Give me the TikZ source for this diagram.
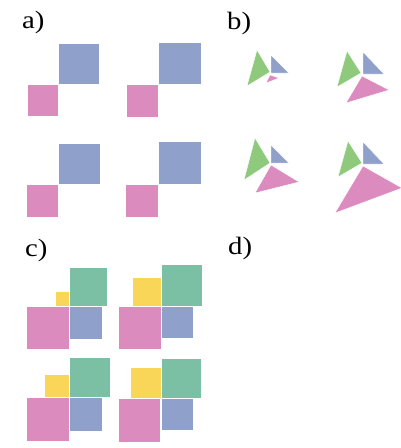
\documentclass[tikz,border=0pt]{standalone}
\usepackage{fontspec}
\setmainfont{Liberation Serif}
\usepackage{tikz}
\definecolor{ShapeBlue}{RGB}{143, 161, 202}
\definecolor{ShapePink}{RGB}{220, 139, 191}
\definecolor{ShapeGreen}{RGB}{142, 201, 124}
\definecolor{ShapeTeal}{RGB}{123, 192, 164}
\definecolor{ShapeYellow}{RGB}{250, 214, 88}
\tikzset{every node/.style={font=\fontsize{25}{25}\selectfont}, every path/.style={line cap=round, line join=round}}
\tikzset{
    panellabel/.style={anchor=base west, inner sep=0pt, xscale=1.15, transform shape},
    tile/.style={draw=white, line width=0.4pt},
    blue tile/.style={tile, fill=ShapeBlue},
    pink tile/.style={tile, fill=ShapePink},
    green tile/.style={tile, fill=ShapeGreen},
    teal tile/.style={tile, fill=ShapeTeal},
    yellow tile/.style={tile, fill=ShapeYellow}
}

\begin{document}
\begin{tikzpicture}[x=1pt, y=-1pt]
    \useasboundingbox (0,0) rectangle (401,448);

    \node [panellabel] (labelA) at (22,28.5) {a)};
    \node [panellabel] (labelB) at (227,29) {b)};
    \node [panellabel] (labelC) at (25,256) {c)};
    \node [panellabel] (labelD) at (228,254) {d)};

    % a) squares
    \draw [blue tile] (58,43) rectangle (99,84);
    \draw [pink tile] (27,84) rectangle (58,116);
    \draw [blue tile] (158,42) rectangle (201,84);
    \draw [pink tile] (126,84) rectangle (158,117);
    \draw [blue tile] (58,143) rectangle (100,184);
    \draw [pink tile] (26,184) rectangle (58,217);
    \draw [blue tile] (158,141) rectangle (201,184);
    \draw [pink tile] (125,184) rectangle (158,217);

    % b) triangles
    \draw [green tile] (257,50) -- (247,86) -- (270,72) -- cycle;
    \draw [blue tile] (271,55) -- (271,73) -- (289,73) -- cycle;
    \draw [pink tile] (270,75) -- (279,78) -- (266,83) -- cycle;

    \draw [green tile] (347,51) -- (337,87) -- (361,73) -- cycle;
    \draw [blue tile] (363,52) -- (363,74) -- (384,74) -- cycle;
    \draw [pink tile] (362,76) -- (389,90) -- (346,103) -- cycle;

    \draw [green tile] (255,138) -- (244,180) -- (270,163) -- cycle;
    \draw [blue tile] (271,145) -- (271,163) -- (289,163) -- cycle;
    \draw [pink tile] (271,165) -- (299,182) -- (255,193) -- cycle;

    \draw [green tile] (348,141) -- (338,177) -- (362,163) -- cycle;
    \draw [blue tile] (363,142) -- (363,164) -- (384,164) -- cycle;
    \draw [pink tile] (363,166) -- (402,188) -- (335,213) -- cycle;

    % c) squares
    \draw [yellow tile] (55,291) rectangle (69,306);
    \draw [teal tile] (69,267) rectangle (107,306);
    \draw [pink tile] (26,306) rectangle (69,349);
    \draw [blue tile] (69,306) rectangle (102,339);

    \draw [yellow tile] (132,277) rectangle (161,306);
    \draw [teal tile] (161,264) rectangle (202,306);
    \draw [pink tile] (118,306) rectangle (161,349);
    \draw [blue tile] (161,306) rectangle (193,338);

    \draw [yellow tile] (44,374) rectangle (69,397);
    \draw [teal tile] (69,357) rectangle (110,397);
    \draw [pink tile] (26,397) rectangle (69,441);
    \draw [blue tile] (69,397) rectangle (102,431);

    \draw [yellow tile] (130,367) rectangle (161,398);
    \draw [teal tile] (161,358) rectangle (201,398);
    \draw [pink tile] (118,398) rectangle (160,442);
    \draw [blue tile] (161,398) rectangle (193,430);
\end{tikzpicture}
\end{document}
